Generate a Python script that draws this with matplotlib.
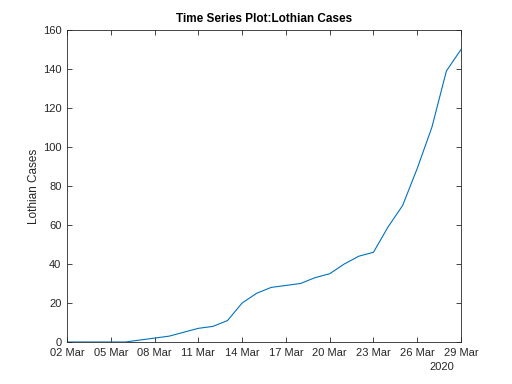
import matplotlib
matplotlib.use("Agg")
import matplotlib.pyplot as plt
import matplotlib.dates as mdates
import numpy as np
import datetime as dt

plt.rcParams['font.family'] = ['Liberation Sans', 'DejaVu Sans']

start = dt.date(2020, 3, 2)
dates = [start + dt.timedelta(days=i) for i in range(28)]
cases = [0, 0, 0, 0, 0, 1, 2, 3, 5, 7, 8, 11, 20, 25, 28, 29, 30, 33, 35, 40,
         44, 46, 59, 70, 89, 110, 139, 150]

fig = plt.figure(figsize=(5.12, 3.84), dpi=100)
ax = fig.add_axes([0.1309, 0.1094, 0.7695, 0.8125])
ax.plot(dates, cases, color='#0072BD', lw=0.8)

ax.set_xlim(dates[0], dates[-1])
ax.set_ylim(0, 160)
ax.set_yticks(np.arange(0, 161, 20))
ax.xaxis.set_major_locator(mdates.DayLocator(bymonthday=[2, 5, 8, 11, 14, 17, 20, 23, 26, 29]))
ax.xaxis.set_major_formatter(mdates.DateFormatter('%d %b'))

edge = '#262626'
for s in ax.spines.values():
    s.set_color(edge)
    s.set_linewidth(0.6)
ax.tick_params(direction='in', length=3.5, width=0.6, colors=edge,
               top=True, right=True, labelsize=8)
ax.tick_params(axis='x', pad=4.5)
ax.tick_params(axis='y', pad=4)
for lab in ax.get_xticklabels() + ax.get_yticklabels():
    lab.set_color('#262626')

ax.set_ylabel('Lothian Cases', fontsize=8.5, color='#262626', labelpad=2)
ax.set_title('Time Series Plot:Lothian Cases', fontsize=8.5, fontweight='bold', pad=6)
fig.text(454/512, 1 - 367/384, '2020', ha='right', va='center', fontsize=8, color='#262626')

fig.savefig('out.png', dpi=100)
